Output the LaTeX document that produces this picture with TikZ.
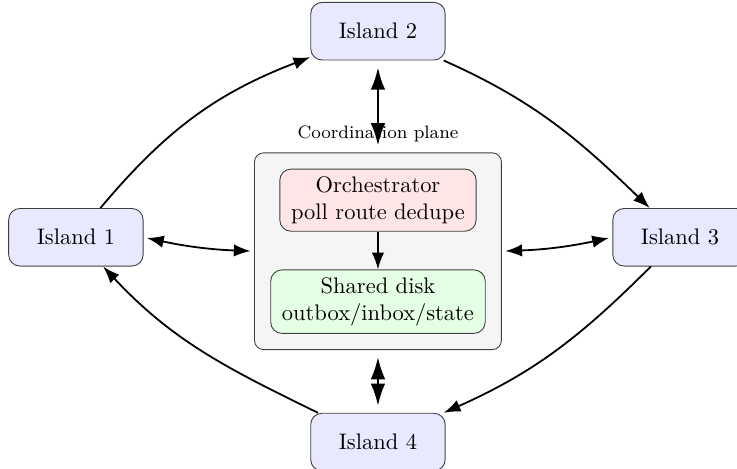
\documentclass[tikz,border=0pt]{standalone}
\usepackage{tikz}
\usetikzlibrary{positioning, fit, arrows.meta, backgrounds}

\tikzset{
    island/.style = {draw=black!75, fill=blue!9, rounded corners=5pt,
        minimum width=2.1cm, minimum height=0.9cm},
    inner box/.style = {draw=black!75, rounded corners=5pt, align=center, inner xsep=5pt},
    flow/.style = {thick, -{Latex[length=7.5pt, width=5.5pt]}},
    sync/.style = {thick, {Latex[length=7.5pt, width=5.5pt]}-{Latex[length=7.5pt, width=5.5pt]},
        shorten <=1.5pt, shorten >=1.5pt},
    link/.style = {very thick, {Latex[length=10pt, width=6.5pt]}-{Latex[length=10pt, width=6.5pt]},
        shorten <=3pt, shorten >=3pt}
}

\begin{document}
\begin{tikzpicture}
    \useasboundingbox (-5.906,-3.39) rectangle (5.61,3.9375);
    % coordination plane
    \node[inner box, fill=red!10] (orch) at (0,0.81) {Orchestrator\\poll route dedupe};
    \node[inner box, fill=green!10, below=0.59cm of orch] (disk) {Shared disk\\outbox/inbox/state};
    \begin{scope}[on background layer]
        \node[draw=black!75, fill=gray!8, rounded corners=4pt, inner sep=7pt,
            fit=(orch) (disk),
            label={[font=\footnotesize, inner sep=2pt, label distance=2.5pt]above:Coordination plane}] (plane) {};
    \end{scope}
    \draw[flow] (orch) -- (disk);

    % islands
    \node[island] (i1) at (-4.72,0.23) {Island 1};
    \node[island] (i2) at (0,3.45) {Island 2};
    \node[island] (i3) at (4.72,0.23) {Island 3};
    \node[island] (i4) at (0,-2.97) {Island 4};

    % ring between islands
    \draw[flow] (i1) to[out=50, in=201] (i2);
    \draw[flow] (i2) to[out=-24, in=136] (i3);
    \draw[flow] (i3) to[out=225, in=24] (i4);
    \draw[flow] (i4) to[out=154, in=-47] (i1);

    % links to the plane
    \draw[sync] (i1.east) to[bend right=5] (plane.west);
    \draw[sync] (i3.west) to[bend left=5] (plane.east);
    \draw[link] (i2) -- (plane);
    \draw[link] (plane) -- (i4);
\end{tikzpicture}
\end{document}
